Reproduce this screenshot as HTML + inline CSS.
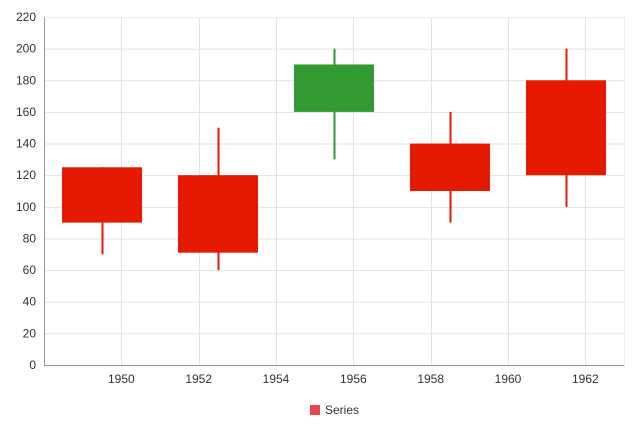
<!DOCTYPE html>
<html><head><meta charset="utf-8"><style>
body{margin:0;background:#fff;font-family:"Liberation Sans",sans-serif;}
svg text{font-family:"Liberation Sans",sans-serif;font-size:12px;fill:#333;}
</style></head><body>
<svg id="chart" width="640" height="440">
<g id="grid"></g><g id="marks"></g><g id="axes"></g>
<g>
<rect x="310" y="405" width="10" height="10" fill="#e5474c"></rect>
<text x="325" y="414">Series</text>
</g>
</svg>
<script>
const centers=[1949.5,1952.5,1955.5,1958.5,1961.5];
const opens=[125,120,160,140,180];
const highs=[125,150,200,160,200];
const lows=[70,60,130,90,100];
const closes=[90,71,190,110,120];
const yTicks=[0,20,40,60,80,100,120,140,160,180,200,220];
const xTicks=[1950,1952,1954,1956,1958,1960,1962];
const X0=44,X1=624,Y0=365,Y1=17,xmin=1948,xmax=1963,ymax=220;
const sx=v=>X0+(v-xmin)/(xmax-xmin)*(X1-X0);
const sy=v=>Y0-v/ymax*(Y0-Y1);
const NS='http://www.w3.org/2000/svg';
function mk(parent,tag,attrs){const e=document.createElementNS(NS,tag);for(const k in attrs)e.setAttribute(k,attrs[k]);document.getElementById(parent).appendChild(e);return e;}
yTicks.forEach(t=>{
 const l=mk('grid','line',{x1:X0,x2:X1,y1:sy(t)+0.5,y2:sy(t)+0.5,stroke:'#e3e3e3'});
 
 
 const tx=mk('axes','text',{x:X0-8,y:sy(t)+4,'text-anchor':'end'});tx.textContent=t;
 
 
});
xTicks.forEach(t=>{
 const l=mk('grid','line',{x1:Math.round(sx(t))+0.5,x2:Math.round(sx(t))+0.5,y1:Y1,y2:Y0,stroke:'#e3e3e3'});
 
 
 const tx=mk('axes','text',{x:sx(t),y:Y0+18,'text-anchor':'middle'});tx.textContent=t;
 
 
});
const b=mk('axes','rect',{x:X0+0.5,y:Y1+0.5,width:X1-X0,height:Y0-Y1,fill:'none',stroke:'#eee'});


const ax=mk('axes','line',{x1:X0,x2:X1,y1:Y0+0.5,y2:Y0+0.5,stroke:'#999'});


const ay=mk('axes','line',{x1:X0+0.5,x2:X0+0.5,y1:Y1,y2:Y0,stroke:'#999'});


const bw=(sx(1)-sx(0))*80/38.67;
centers.forEach((c,i)=>{
 const col=closes[i]>=opens[i]?'#339933':'#e51a00';
 const cx=Math.round(sx(c))+0.5;
 const w=mk('marks','line',{x1:cx,x2:cx,y1:sy(highs[i]),y2:sy(lows[i]),stroke:col,'stroke-width':2});
 
 
 const top=Math.max(opens[i],closes[i]),bot=Math.min(opens[i],closes[i]);
 const r=mk('marks','rect',{x:sx(c)-bw/2,y:sy(top),width:bw,height:sy(bot)-sy(top),fill:col});
 
 
});
</script>
</body></html>
